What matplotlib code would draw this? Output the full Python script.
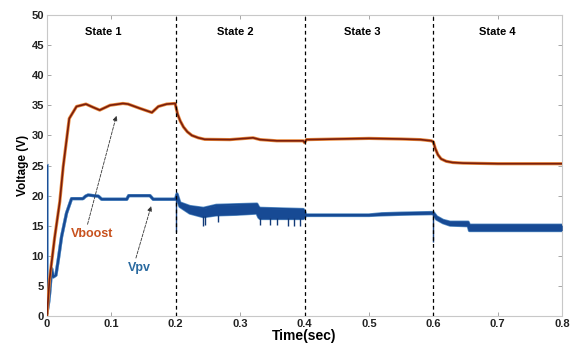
import matplotlib
matplotlib.use('Agg')
import matplotlib.pyplot as plt

plt.rcParams['font.family'] = ['Liberation Sans', 'DejaVu Sans']

# Vboost trace
vb_t = [0, 0.004, 0.012, 0.02, 0.0253, 0.0347, 0.046, 0.0606, 0.071, 0.082, 0.098,
        0.118, 0.126, 0.144, 0.163, 0.173, 0.186, 0.199, 0.203, 0.207, 0.212, 0.218,
        0.225, 0.235, 0.245, 0.284, 0.320, 0.331, 0.357, 0.398, 0.400, 0.403, 0.45,
        0.50, 0.55, 0.58, 0.597, 0.600, 0.603, 0.607, 0.612, 0.620, 0.630, 0.646,
        0.70, 0.80]
vb_v = [0, 6, 13, 19, 24.8, 32.8, 34.8, 35.2, 34.7, 34.2, 35.0,
        35.3, 35.2, 34.5, 33.8, 34.8, 35.2, 35.3, 33.5, 32.4, 31.4, 30.6,
        30.0, 29.6, 29.35, 29.3, 29.6, 29.3, 29.1, 29.1, 28.8, 29.3, 29.4,
        29.5, 29.4, 29.3, 29.1, 28.9, 27.8, 26.8, 26.1, 25.7, 25.5, 25.4,
        25.3, 25.3]

# Vpv trace: upper and lower edge of the noisy band
vpv_t = [0, 0, 0.003, 0.0047, 0.0073, 0.0098, 0.014, 0.0176, 0.0228, 0.0305, 0.0383,
         0.056, 0.060, 0.064, 0.080, 0.085, 0.124, 0.127, 0.160, 0.165, 0.199,
         0.2, 0.202, 0.2065, 0.222, 0.243, 0.263, 0.294, 0.326, 0.329, 0.331, 0.398,
         0.400, 0.402, 0.50, 0.52, 0.55, 0.597, 0.600, 0.605, 0.615, 0.626, 0.654,
         0.656, 0.80]
vpv_hi = [25, 0.4, 2.5, 4.3, 7.9, 6.5, 6.8, 9.3, 13.2, 17.1, 19.5,
          19.5, 19.9, 20.1, 19.9, 19.4, 19.4, 20.0, 20.0, 19.4, 19.4,
          19.6, 20.3, 18.8, 18.2, 17.9, 18.4, 18.5, 18.6, 18.0, 17.9, 17.7,
          17.4, 16.8, 16.8, 17.0, 17.1, 17.2, 17.2, 16.5, 15.9, 15.6, 15.6,
          15.1, 15.1]
vpv_lo = [25, 0.4, 2.5, 4.3, 7.9, 6.5, 6.8, 9.3, 13.2, 17.1, 19.5,
          19.5, 19.9, 20.1, 19.9, 19.4, 19.4, 20.0, 20.0, 19.4, 19.4,
          19.4, 19.6, 18.2, 17.1, 16.5, 16.8, 16.9, 17.1, 16.4, 16.2, 16.2,
          16.4, 16.7, 16.7, 16.8, 16.9, 17.0, 17.0, 16.1, 15.5, 15.1, 15.0,
          14.2, 14.2]

# sharp downward spikes of Vpv
spike_t = [0.2, 0.243, 0.246, 0.265, 0.331, 0.347, 0.357, 0.375, 0.383, 0.393, 0.6]
spike_top = [19.4, 16.6, 16.6, 16.8, 16.3, 16.3, 16.3, 16.3, 16.3, 16.3, 17.0]
spike_bot = [14.0, 15.0, 15.2, 15.6, 15.1, 15.1, 15.1, 14.9, 14.9, 14.9, 12.3]

state_x = [0.088, 0.292, 0.489, 0.699]
state_names = ['State 1', 'State 2', 'State 3', 'State 4']
switch_t = [0.2, 0.4, 0.6]

x_ticks = [0, 0.1, 0.2, 0.3, 0.4, 0.5, 0.6, 0.7, 0.8]
y_ticks = [0, 5, 10, 15, 20, 25, 30, 35, 40, 45, 50]

fig = plt.figure(figsize=(5.79, 3.47), dpi=100)
ax = fig.add_axes([0.081, 0.089, 0.890, 0.868])

# Vpv: light fringe first, then solid band and dark edges on top
blue = '#174a94'
ax.plot(vpv_t, vpv_hi, color='#5a90c6', lw=2.3, zorder=2)
ax.plot(vpv_t, vpv_lo, color='#5a90c6', lw=2.3, zorder=2)
ax.fill_between(vpv_t, vpv_lo, vpv_hi, color=blue, lw=0, zorder=3)
ax.plot(vpv_t, vpv_hi, color=blue, lw=1.3, zorder=4)
ax.plot(vpv_t, vpv_lo, color=blue, lw=1.3, zorder=4)
ax.vlines(spike_t, spike_bot, spike_top, color='#123a78', lw=1.0, zorder=4)

# Vboost
ax.plot(vb_t, vb_v, color='#e8883c', lw=2.3, zorder=5)
ax.plot(vb_t, vb_v, color='#7a1e0c', lw=1.2, zorder=6)

for t in switch_t:
    ax.axvline(t, color='black', ls=(0, (3, 2.5)), lw=0.9, zorder=7)

for x, s in zip(state_x, state_names):
    ax.text(x, 47.2, s, ha='center', va='center', fontsize=8, fontweight='bold')

ax.annotate('', xy=(0.109, 33.7), xytext=(0.062, 14.8),
            arrowprops=dict(arrowstyle='-|>', color='#333333', lw=0.6, ls='--',
                            mutation_scale=7))
ax.text(0.070, 13.6, 'Vboost', color='#c8521e', fontsize=9, fontweight='bold',
        ha='center', va='center')
ax.annotate('', xy=(0.163, 18.7), xytext=(0.137, 9.2),
            arrowprops=dict(arrowstyle='-|>', color='#333333', lw=0.6, ls='--',
                            mutation_scale=7))
ax.text(0.144, 8.0, 'Vpv', color='#2a6aa0', fontsize=9, fontweight='bold',
        ha='center', va='center')

ax.set_xlim(0, 0.8)
ax.set_ylim(0, 50)
ax.set_xticks(x_ticks)
ax.set_xticklabels([f'{v:g}' for v in x_ticks])
ax.set_yticks(y_ticks)
ax.tick_params(direction='in', length=3, width=0.6, color='#999999',
               top=True, right=True, labelsize=8, pad=2, labelcolor='#222222')
for lab in ax.get_xticklabels() + ax.get_yticklabels():
    lab.set_fontweight('bold')
for sp in ax.spines.values():
    sp.set_color('#c8c8c8')
    sp.set_linewidth(0.8)

ax.set_xlabel('Time(sec)', fontsize=10, fontweight='bold', labelpad=0)
ax.set_ylabel('Voltage (V)', fontsize=8.5, fontweight='bold', labelpad=2)

fig.savefig('out.png', dpi=100)
